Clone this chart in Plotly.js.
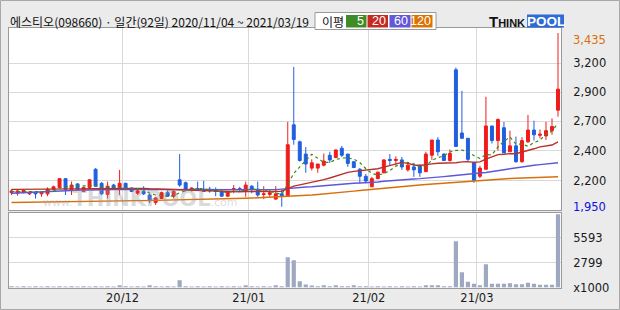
<!DOCTYPE html>
<html><head><meta charset="utf-8">
<script src="https://cdn.plot.ly/plotly-3.0.1.min.js"></script>
<style>html,body{margin:0;padding:0;background:#ebebeb;overflow:hidden}#chart{width:620px;height:310px}</style>
</head><body><div id="chart"></div>
<script>
// ---- data ----
const dates = [
"2020-11-04","2020-11-05","2020-11-06","2020-11-09","2020-11-10","2020-11-11","2020-11-12","2020-11-13","2020-11-16","2020-11-17",
"2020-11-18","2020-11-19","2020-11-20","2020-11-23","2020-11-24","2020-11-25","2020-11-26","2020-11-27","2020-11-30",
"2020-12-01","2020-12-02","2020-12-03","2020-12-04","2020-12-07","2020-12-08","2020-12-09","2020-12-10","2020-12-11","2020-12-14",
"2020-12-15","2020-12-16","2020-12-17","2020-12-18","2020-12-21","2020-12-22","2020-12-23","2020-12-24","2020-12-28","2020-12-29","2020-12-30",
"2021-01-04","2021-01-05","2021-01-06","2021-01-07","2021-01-08","2021-01-11","2021-01-12","2021-01-13","2021-01-14","2021-01-15",
"2021-01-18","2021-01-19","2021-01-20","2021-01-21","2021-01-22","2021-01-25","2021-01-26","2021-01-27","2021-01-28","2021-01-29",
"2021-02-01","2021-02-02","2021-02-03","2021-02-04","2021-02-05","2021-02-08","2021-02-09","2021-02-10","2021-02-15","2021-02-16",
"2021-02-17","2021-02-18","2021-02-19","2021-02-22","2021-02-23","2021-02-24","2021-02-25","2021-02-26",
"2021-03-02","2021-03-03","2021-03-04","2021-03-05","2021-03-08","2021-03-09","2021-03-10","2021-03-11","2021-03-12","2021-03-15",
"2021-03-16","2021-03-17","2021-03-18","2021-03-19"];
const open = [2070,2065,2070,2060,2075,2060,2060,2100,2115,2190,2095,2145,2080,2115,2270,2150,2055,2135,2100,2150,
2105,2065,2080,2050,1985,2020,2070,2040,2180,2155,2095,2105,2100,2100,2095,2080,2040,2095,2105,2085,
2125,2100,2055,2055,2015,2060,2040,2650,2505,2400,2280,2280,2305,2390,2370,2450,2400,2335,2270,2210,
2120,2190,2240,2355,2345,2350,2265,2290,2305,2250,2390,2520,2400,2345,3120,2580,2535,2330,2210,2270,
2640,2515,2625,2420,2470,2335,2505,2605,2560,2555,2600,2775];
const high = [2100,2095,2100,2080,2080,2080,2115,2130,2195,2190,2165,2150,2120,2185,2280,2160,2165,2145,2265,2155,
2110,2095,2125,2060,2035,2080,2090,2090,2400,2165,2115,2165,2170,2120,2115,2095,2080,2135,2120,2165,
2135,2165,2125,2100,2125,2100,2675,3145,2515,2460,2355,2315,2405,2420,2440,2470,2400,2335,2280,2230,
2205,2250,2355,2400,2380,2375,2325,2325,2310,2420,2520,2545,2405,2440,3140,2940,2535,2330,2300,2890,
2640,2705,2675,2600,2550,2545,2735,2685,2610,2675,2705,3435];
const low = [2050,2045,2065,2050,2020,2035,2040,2095,2110,2050,2050,2090,2075,2110,2120,2050,2020,2095,2050,2100,
2075,2050,2050,1980,1965,2015,2035,2020,2120,2080,2080,2090,2075,2070,2040,2035,2035,2065,2080,2035,
2065,2035,2015,2035,2010,1950,2035,2480,2335,2240,2260,2240,2295,2325,2365,2375,2290,2280,2150,2150,
2120,2185,2235,2305,2305,2265,2250,2205,2205,2245,2350,2385,2340,2335,2460,2530,2340,2155,2195,2270,
2490,2430,2410,2420,2325,2325,2495,2515,2535,2520,2565,2720];
const close = [2085,2085,2090,2075,2060,2075,2100,2120,2190,2100,2135,2095,2115,2180,2125,2060,2125,2100,2150,2105,
2080,2085,2060,2000,2025,2070,2040,2080,2135,2100,2110,2095,2080,2085,2080,2040,2080,2105,2095,2135,
2095,2050,2060,2070,2060,2040,2480,2525,2345,2315,2325,2315,2340,2350,2435,2390,2320,2285,2210,2170,
2190,2245,2350,2345,2355,2290,2305,2265,2240,2400,2520,2420,2345,2405,2465,2535,2355,2175,2280,2640,
2515,2695,2410,2470,2335,2515,2605,2565,2570,2600,2635,2955];
const volume = [130,120,130,120,130,120,130,120,130,120,130,120,130,120,130,120,130,120,260,130,
120,130,120,260,130,120,130,120,820,130,120,130,120,130,120,130,120,130,120,260,
130,120,130,120,260,130,3394,3058,709,335,224,150,260,150,260,150,130,260,130,130,
120,130,120,130,120,130,120,130,120,260,260,260,150,150,5184,1715,634,410,260,2610,
410,410,410,485,373,373,522,410,300,300,300,8200];
const ma5 = [2080,2082,2083,2080,2079,2077,2080,2086,2109,2117,2129,2128,2127,2125,2130,2115,2121,2118,2112,2108,
2112,2104,2096,2066,2050,2048,2039,2043,2070,2085,2093,2104,2104,2094,2090,2076,2073,2078,2080,2091,
2102,2096,2087,2082,2067,2056,2142,2235,2290,2341,2398,2365,2328,2329,2353,2366,2367,2356,2328,2275,
2235,2220,2233,2260,2297,2317,2329,2312,2291,2300,2346,2369,2385,2418,2431,2434,2421,2387,2362,2397,
2393,2461,2508,2546,2485,2485,2467,2498,2518,2571,2595,2665];
const ma20 = [2098,2098,2097,2097,2096,2096,2096,2097,2098,2099,2100,2101,2102,2103,2104,2104,2105,2106,2107,2108,
2108,2108,2107,2103,2101,2101,2098,2096,2093,2093,2092,2092,2090,2086,2083,2082,2080,2080,2078,2079,
2080,2078,2078,2082,2083,2082,2104,2126,2137,2147,2158,2169,2182,2195,2213,2231,2243,2252,2257,2259,
2264,2274,2288,2302,2317,2329,2320,2307,2302,2306,2316,2321,2322,2324,2326,2333,2335,2329,2333,2356,
2373,2395,2398,2404,2403,2415,2430,2445,2461,2471,2477,2504];
const ma60 = [2065,2068,2071,2074,2077,2080,2082,2084,2086,2088,2089,2091,2093,2094,2096,2097,2097,2097,2097,2097,
2097,2097,2097,2097,2097,2097,2097,2097,2097,2097,2097,2097,2096,2096,2096,2095,2095,2095,2094,2094,
2094,2094,2093,2093,2096,2100,2106,2110,2114,2118,2121,2126,2131,2136,2140,2144,2148,2150,2152,2154,
2155,2161,2167,2172,2178,2181,2184,2187,2190,2193,2198,2203,2207,2212,2216,2221,2227,2232,2238,2243,
2249,2257,2266,2274,2283,2292,2298,2304,2310,2316,2321,2326];
const ma120 = [1986,1987,1987,1988,1988,1989,1989,1990,1991,1992,1993,1994,1995,1996,1998,1999,1999,2000,2000,2001,
2001,2002,2002,2003,2004,2004,2005,2005,2006,2006,2007,2008,2009,2011,2012,2014,2016,2018,2020,2022,
2024,2026,2028,2030,2032,2035,2037,2040,2043,2047,2050,2054,2058,2063,2068,2073,2078,2083,2089,2093,
2097,2101,2106,2111,2116,2122,2127,2131,2135,2140,2144,2148,2151,2155,2158,2162,2165,2169,2173,2177,
2180,2184,2188,2191,2193,2195,2197,2199,2201,2203,2205,2206];
const priceTickVals = [3176,2928,2680,2429,2173];
const priceTickText = ["3,200","2,900","2,700","2,400","2,200"];
const volTickVals = [0,2799,5593];
const volTickText = ["x1000","2799","5593"];
const maLabels = ["5","20","60","120"];
const title = "에스티오(098660) · 일간(92일) 2020/11/04 ~ 2021/03/19";

// ---- derived ----
const idx = dates.map((d,i)=>i);
const monthIdx = [], monthText = [];
dates.forEach((d,i)=>{ if(i>0 && d.slice(5,7)!==dates[i-1].slice(5,7)){ monthIdx.push(i-0.5); monthText.push(d.slice(2,4)+"/"+d.slice(5,7)); }});
const hi = Math.max(...high), lo = Math.min(...low);
const hiText = hi.toLocaleString('en-US'), loText = lo.toLocaleString('en-US');

const W=620,H=310;
const px = x=>x/W, py = y=>1-y/H;
const axFont = {family:"DejaVu Sans, sans-serif", size:11.5, color:"#1a1a1a"};

const traces = [
 {type:'candlestick', x:idx, open:open, high:high, low:low, close:close, xaxis:'x', yaxis:'y',
  increasing:{line:{color:'#f01c1c',width:1}, fillcolor:'#f01c1c'},
  decreasing:{line:{color:'#1f5fe0',width:1}, fillcolor:'#1f5fe0'}, whiskerwidth:0, hoverinfo:'skip'},
 {type:'scatter', mode:'lines', x:idx, y:ma120, line:{color:'#d8700a',width:1.4}, xaxis:'x', yaxis:'y', hoverinfo:'skip'},
 {type:'scatter', mode:'lines', x:idx, y:ma60, line:{color:'#5d58d8',width:1.4}, xaxis:'x', yaxis:'y', hoverinfo:'skip'},
 {type:'scatter', mode:'lines', x:idx, y:ma20, line:{color:'#b8302a',width:1.4}, xaxis:'x', yaxis:'y', hoverinfo:'skip'},
 {type:'scatter', mode:'lines', x:idx, y:ma5, line:{color:'#3c8a1e',width:1.2,dash:'dot'}, xaxis:'x', yaxis:'y', hoverinfo:'skip'},
 {type:'bar', x:idx, y:volume, marker:{color:'#9ea8c0',line:{width:0}}, xaxis:'x2', yaxis:'y2', width:0.7, hoverinfo:'skip'}
];

const xdom=[px(8.5),px(561)];
const layout = {
 width:W, height:H, margin:{l:0,r:0,t:0,b:0}, paper_bgcolor:'#ebebeb', plot_bgcolor:'#ffffff',
 showlegend:false, boxgap:0.3, bargap:0.3,
 xaxis:{domain:xdom, range:[-0.5,91.5], anchor:'y', tickvals:monthIdx, ticktext:monthText, showticklabels:false,
   showgrid:true, gridcolor:'#d9d9d9', gridwidth:1, zeroline:false, showline:true, linecolor:'#9a9a9a', mirror:true, rangeslider:{visible:false}, fixedrange:true},
 yaxis:{domain:[py(210),py(28)], range:[1921.8,3477.7], side:'right', anchor:'x', tickvals:priceTickVals, ticktext:priceTickText,
   tickfont:axFont, ticks:'outside', ticklen:9, tickcolor:'rgba(0,0,0,0)', showgrid:true, gridcolor:'#d9d9d9', zeroline:false,
   showline:true, linecolor:'#9a9a9a', mirror:true},
 xaxis2:{domain:xdom, range:[-0.5,91.5], anchor:'y2', tickvals:monthIdx, ticktext:monthText, tickfont:axFont, ticks:'',
   showgrid:true, gridcolor:'#d9d9d9', zeroline:false, showline:true, linecolor:'#9a9a9a', mirror:true},
 yaxis2:{domain:[py(287.5),py(213)], range:[0,8334], side:'right', anchor:'x2', tickvals:volTickVals, ticktext:volTickText,
   tickfont:axFont, ticks:'outside', ticklen:9, tickcolor:'rgba(0,0,0,0)', showgrid:true, gridcolor:'#d9d9d9', zeroline:false,
   showline:true, linecolor:'#9a9a9a', mirror:true},
 shapes:[
  {type:'rect', xref:'paper', yref:'paper', x0:px(0.5), x1:px(619.5), y0:py(309.5), y1:py(0.5), line:{color:'#a8a8a8',width:1}},
  {type:'rect', xref:'paper', yref:'paper', x0:px(315), x1:px(436), y0:py(29.5), y1:py(12.5), fillcolor:'#ffffff', line:{color:'#9a9a9a',width:1}},
  {type:'rect', xref:'paper', yref:'paper', x0:px(346), x1:px(366.5), y0:py(27.5), y1:py(15), fillcolor:'#3f8c26', line:{width:0}},
  {type:'rect', xref:'paper', yref:'paper', x0:px(367.5), x1:px(388), y0:py(27.5), y1:py(15), fillcolor:'#c42a22', line:{width:0}},
  {type:'rect', xref:'paper', yref:'paper', x0:px(389.5), x1:px(410.5), y0:py(27.5), y1:py(15), fillcolor:'#6258d8', line:{width:0}},
  {type:'rect', xref:'paper', yref:'paper', x0:px(411.5), x1:px(432.5), y0:py(27.5), y1:py(15), fillcolor:'#d97406', line:{width:0}},
  {type:'rect', xref:'paper', yref:'paper', x0:px(527), x1:px(564), y0:py(27.5), y1:py(14.5), fillcolor:'#2d6bd6', line:{width:0}}
 ],
 annotations:[
  {xref:'paper', yref:'paper', x:px(8), y:py(21.5), xanchor:'left', yanchor:'middle', text:title, showarrow:false,
   font:{family:"Noto Sans CJK KR, sans-serif", size:12, color:'#111'}},
  {xref:'paper', yref:'paper', x:px(320), y:py(21), xanchor:'left', yanchor:'middle', text:'이평', showarrow:false,
   font:{family:"Noto Sans CJK KR, sans-serif", size:12, color:'#111'}},
  ...maLabels.map((t,k)=>({xref:'paper', yref:'paper', x:px([366,387.5,410,432.5][k]), y:py(21.3), xanchor:'right', yanchor:'middle', text:t, showarrow:false,
   font:{family:"Liberation Sans, sans-serif", size:12.5, color:'#ffffff'}})),
  {xref:'paper', yref:'paper', x:px(526.5), y:py(21.5), xanchor:'right', yanchor:'middle', showarrow:false,
   text:'<b>T<span style="font-size:11px">HINK</span></b>', font:{family:"Liberation Sans, sans-serif", size:15, color:'#111'}},
  {xref:'paper', yref:'paper', x:px(545.5), y:py(21.3), xanchor:'center', yanchor:'middle', showarrow:false,
   text:'<b>POOL</b>', font:{family:"Liberation Sans, sans-serif", size:13.5, color:'#ffffff'}},
  {xref:'paper', yref:'paper', x:px(140), y:py(199), xanchor:'center', yanchor:'middle', showarrow:false,
   text:'<span style="font-size:11px">www.</span><b>THINKPOOL</b><span style="font-size:11px">.com</span>',
   font:{family:"DejaVu Sans, sans-serif", size:21, color:'rgba(150,150,150,0.35)'}},
  {xref:'paper', yref:'paper', x:px(570.5), y:py(39.5), xanchor:'left', yanchor:'middle', text:hiText, showarrow:false,
   font:{family:axFont.family, size:11.5, color:'#d8700a'}},
  {xref:'paper', yref:'paper', x:px(570.5), y:py(207), xanchor:'left', yanchor:'middle', text:loText, showarrow:false,
   font:{family:axFont.family, size:11.5, color:'#1010e0'}}
 ]
};
Plotly.newPlot('chart', traces, layout, {staticPlot:true, displayModeBar:false});
</script></body></html>
